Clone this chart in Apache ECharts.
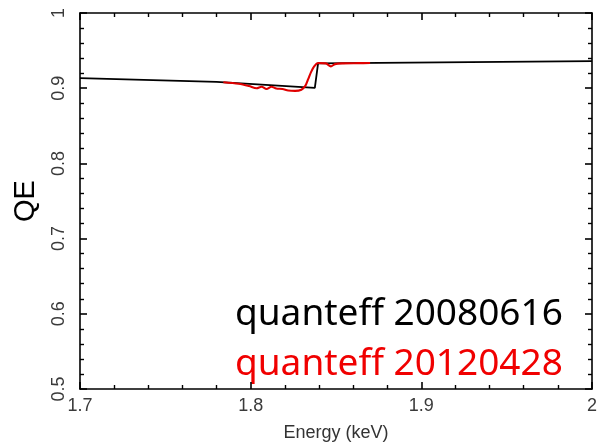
<!DOCTYPE html>
<html>
<head>
<meta charset="utf-8">
<script src="https://cdn.jsdelivr.net/npm/echarts@6/dist/echarts.min.js"></script>
<style>
html,body{margin:0;padding:0;background:#fff;}
#c{width:600px;height:447px;}
</style>
</head>
<body>
<div id="c"></div>
<script>
// Energy (keV) / QE data
var black2008E = [1.7, 1.78, 1.8376, 1.8395, 2.0];
var black2008QE = [0.9134, 0.9085, 0.9005, 0.933, 0.936];

var red2012E = [1.784, 1.793, 1.799, 1.8035, 1.8064, 1.8093, 1.8122, 1.815, 1.8186, 1.822, 1.826, 1.8297, 1.832, 1.8337, 1.8355, 1.8372, 1.8395, 1.844, 1.847, 1.8494, 1.854, 1.863, 1.87];
var red2012QE = [0.908, 0.906, 0.903, 0.900, 0.902, 0.899, 0.902, 0.8995, 0.899, 0.897, 0.8965, 0.898, 0.903, 0.912, 0.922, 0.929, 0.9335, 0.933, 0.929, 0.932, 0.933, 0.9333, 0.9335];

var legendLabels = ['quanteff 20080616', 'quanteff 20120428'];
var xTitle = 'Energy (keV)';
var yTitle = 'QE';

function zip(a, b) { return a.map(function (v, i) { return [v, b[i]]; }); }

var chart = echarts.init(document.getElementById('c'));
var labelFont = {fontFamily: 'Liberation Sans, Arial, sans-serif', fontSize: 18, color: '#3a3a3a'};
var axisLine = {show: true, lineStyle: {color: '#000', width: 1.6}};
var tickIn = {show: true, inside: true, length: 7, lineStyle: {color: '#000', width: 1.6}};
var minorIn = {show: true, splitNumber: 5, length: 4, lineStyle: {color: '#000', width: 1.4}};

chart.setOption({
  backgroundColor: '#fff',
  animation: false,
  grid: {left: 80, right: 4, top: 13, bottom: 50, containLabel: false},
  xAxis: [{
    type: 'value', min: 1.7, max: 2.0, interval: 0.1, position: 'bottom',
    axisLine: axisLine, axisTick: tickIn, minorTick: minorIn,
    splitLine: {show: false}, minorSplitLine: {show: false},
    axisLabel: Object.assign({margin: 8, formatter: function (v) { return String(+v.toFixed(1)); }}, labelFont),
    name: xTitle, nameLocation: 'middle', nameGap: 35,
    nameTextStyle: {fontFamily: 'Liberation Sans, Arial, sans-serif', fontSize: 18, color: '#333'}
  }, {
    type: 'value', min: 1.7, max: 2.0, interval: 0.1, position: 'top',
    axisLine: axisLine, axisTick: tickIn, minorTick: minorIn,
    splitLine: {show: false}, axisLabel: {show: false}
  }],
  yAxis: [{
    type: 'value', min: 0.5, max: 1.0, interval: 0.1, position: 'left',
    axisLine: axisLine, axisTick: tickIn, minorTick: minorIn,
    splitLine: {show: false}, minorSplitLine: {show: false},
    axisLabel: Object.assign({margin: 12, rotate: 90, formatter: function (v) { return String(+v.toFixed(1)); }}, labelFont),
    name: yTitle, nameLocation: 'middle', nameGap: 40, nameRotate: 90,
    nameTextStyle: {fontFamily: 'Liberation Sans, Arial, sans-serif', fontSize: 29, color: '#000'}
  }, {
    type: 'value', min: 0.5, max: 1.0, interval: 0.1, position: 'right',
    axisLine: axisLine, axisTick: tickIn, minorTick: minorIn,
    splitLine: {show: false}, axisLabel: {show: false}
  }],
  series: [{
    name: legendLabels[0], type: 'line', xAxisIndex: 0, yAxisIndex: 0,
    data: zip(black2008E, black2008QE), showSymbol: false, symbol: 'none',
    lineStyle: {color: '#000', width: 1.8}, z: 2
  }, {
    name: legendLabels[1], type: 'line', xAxisIndex: 0, yAxisIndex: 0,
    data: zip(red2012E, red2012QE), showSymbol: false, symbol: 'none', smooth: 0.3,
    lineStyle: {color: '#e00000', width: 2.1}, z: 3
  }],
  graphic: [{
    type: 'text', left: 235, top: 296,
    style: {text: legendLabels[0], fill: '#000', font: '37px "Noto Sans", sans-serif'}
  }, {
    type: 'text', left: 235, top: 346,
    style: {text: legendLabels[1], fill: '#f00000', font: '37px "Noto Sans", sans-serif'}
  }]
});
</script>
</body>
</html>
